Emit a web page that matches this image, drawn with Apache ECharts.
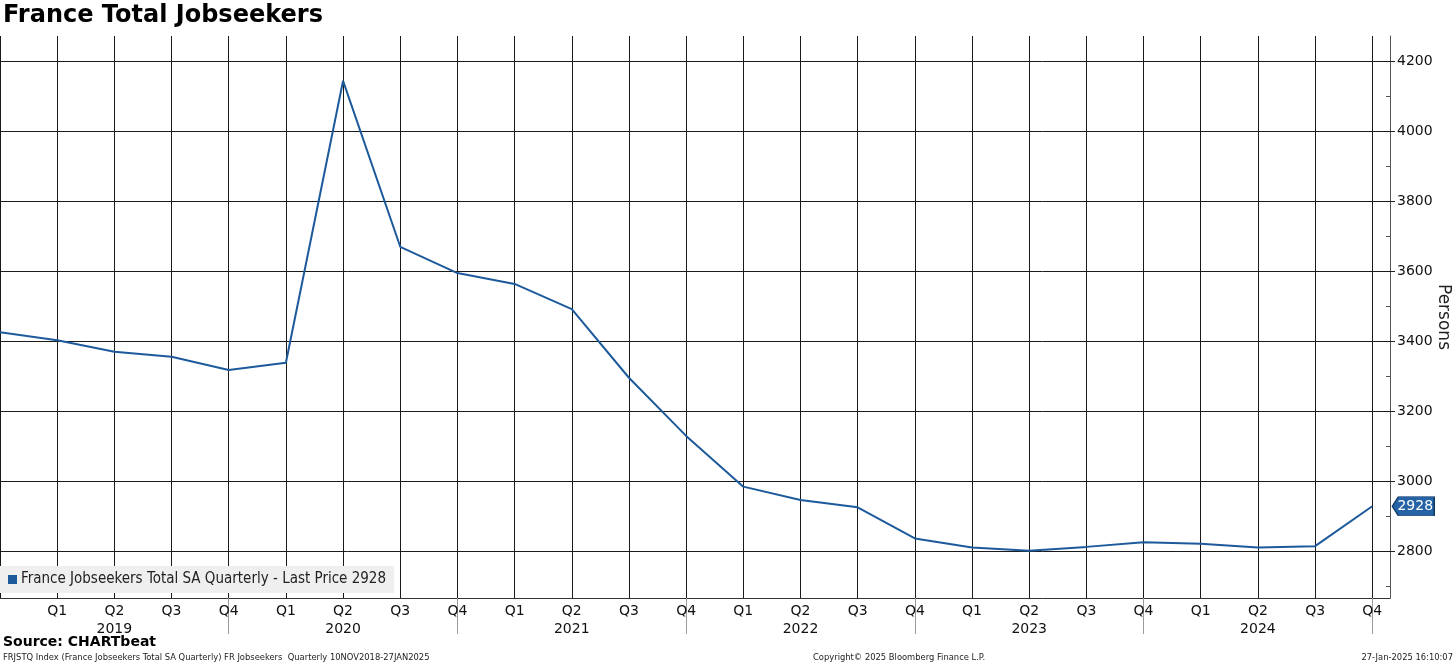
<!DOCTYPE html>
<html>
<head>
<meta charset="utf-8">
<script src="https://cdn.jsdelivr.net/npm/echarts@6/dist/echarts.min.js"></script>
<style>
html,body{margin:0;padding:0;background:#fff;}
#chart{width:1456px;height:665px;}
</style>
</head>
<body>
<div id="chart"></div>
<script>
// ---- data ----
const periods = ['2018 Q4',
  '2019 Q1','2019 Q2','2019 Q3','2019 Q4',
  '2020 Q1','2020 Q2','2020 Q3','2020 Q4',
  '2021 Q1','2021 Q2','2021 Q3','2021 Q4',
  '2022 Q1','2022 Q2','2022 Q3','2022 Q4',
  '2023 Q1','2023 Q2','2023 Q3','2023 Q4',
  '2024 Q1','2024 Q2','2024 Q3','2024 Q4'];
const jobseekers = [3425,
  3402,3369,3355,3317,
  3338,4143,3669,3594,
  3563,3491,3295,3129,
  2984,2946,2925,2836,
  2810,2801,2812,2825,
  2821,2810,2814,2928];
const yTickValues = [2800,3000,3200,3400,3600,3800,4000,4200];
const yMinorTickValues = [2700,2900,3100,3300,3500,3700,3900,4100];
const xLabelIndices = [1,2,3,4,5,6,7,8,9,10,11,12,13,14,15,16,17,18,19,20,21,22,23,24];
const yearSeparatorIndices = [4,8,12,16,20,24];
const seriesName = 'France Jobseekers Total SA Quarterly - Last Price 2928';
const lastPrice = jobseekers[jobseekers.length - 1];

const FONT = '"DejaVu Sans", sans-serif';
const FONT_C = '"DejaVu Sans Condensed", "DejaVu Sans", sans-serif';
const X_MAX = 24.31;
const Y_MIN = 2666, Y_MAX = 4271;

const lineData = jobseekers.map((v, i) => [i, v]);
const gridBox = {left: 0, right: 66, top: 36, bottom: 67, containLabel: false, outerBoundsMode: 'none'};

const chart = echarts.init(document.getElementById('chart'), null, {renderer: 'canvas'});
chart.setOption({
  animation: false,
  backgroundColor: '#ffffff',
  textStyle: {fontFamily: FONT},
  title: [
    {text: 'France Total Jobseekers', left: 3, top: 4, padding: 0,
     textStyle: {fontSize: 24, fontWeight: 'bold', color: '#000', fontFamily: FONT}},
    {text: 'Source: CHARTbeat', left: 3, top: 635, padding: 0,
     textStyle: {fontSize: 14, fontWeight: 'bold', color: '#000', fontFamily: FONT}},
    {text: 'FRJSTQ Index (France Jobseekers Total SA Quarterly) FR Jobseekers  Quarterly 10NOV2018-27JAN2025', left: 3, top: 653, padding: 0,
     textStyle: {fontSize: 9.3, fontWeight: 'normal', color: '#222', fontFamily: FONT_C}},
    {text: 'Copyright\u00A9 2025 Bloomberg Finance L.P.', left: 813, top: 653, padding: 0,
     textStyle: {fontSize: 9.3, fontWeight: 'normal', color: '#222', fontFamily: FONT_C}},
    {text: '27-Jan-2025 16:10:07', right: 3, top: 653, padding: 0,
     textStyle: {fontSize: 9.3, fontWeight: 'normal', color: '#222', fontFamily: FONT_C}}
  ],
  legend: {
    left: 0, top: 566,
    data: [seriesName],
    icon: 'rect', itemWidth: 9, itemHeight: 9, itemGap: 4,
    backgroundColor: '#efefef',
    padding: [6, 8, 6, 8],
    textStyle: {fontSize: 15, color: '#222', fontFamily: FONT_C, padding: [0, 0, 0, -1]}
  },
  grid: [gridBox, Object.assign({}, gridBox)],
  xAxis: [
    {
      type: 'value', gridIndex: 0, min: 0, max: X_MAX, interval: 1,
      axisLine: {show: true, onZero: false, lineStyle: {color: '#333', width: 1}},
      axisTick: {show: false},
      splitLine: {show: true, lineStyle: {color: '#1a1a1a', width: 1}},
      axisLabel: {
        customValues: xLabelIndices,
        margin: 4, fontSize: 14, color: '#111', lineHeight: 18, fontFamily: FONT,
        formatter: function (v) {
          const p = periods[Math.round(v)];
          if (!p) return '';
          const parts = p.split(' ');
          return parts[1] === 'Q2' ? parts[1] + '\n' + parts[0] : parts[1];
        }
      }
    },
    {
      type: 'value', gridIndex: 1, min: 0, max: X_MAX, position: 'bottom',
      axisLine: {show: false, onZero: false},
      axisTick: {show: true, customValues: yearSeparatorIndices, length: 36, lineStyle: {color: '#9a9a9a', width: 1}},
      axisLabel: {show: false},
      splitLine: {show: false}
    }
  ],
  yAxis: [
    {
      type: 'value', gridIndex: 0, position: 'right', min: Y_MIN, max: Y_MAX,
      name: 'Persons', nameLocation: 'middle', nameRotate: -90, nameGap: 45, nameMoveOverlap: false,
      nameTextStyle: {fontSize: 17, color: '#222', fontFamily: FONT},
      axisLine: {show: true, onZero: false, lineStyle: {color: '#555', width: 1}},
      axisTick: {show: true, customValues: yTickValues, length: 5, inside: false, lineStyle: {color: '#222'}},
      axisLabel: {customValues: yTickValues, margin: 7, fontSize: 14, color: '#111', fontFamily: FONT,
        formatter: function (v) { return String(v); }},
      splitLine: {show: true, lineStyle: {color: '#1a1a1a', width: 1}}
    },
    {
      type: 'value', gridIndex: 1, position: 'right', min: Y_MIN, max: Y_MAX,
      axisLine: {show: false, onZero: false},
      axisTick: {show: true, customValues: yMinorTickValues, length: 4, inside: true, lineStyle: {color: '#555'}},
      axisLabel: {show: false},
      splitLine: {show: false}
    }
  ],
  series: [{
    name: seriesName,
    type: 'line',
    xAxisIndex: 0, yAxisIndex: 0,
    data: lineData,
    showSymbol: false,
    symbol: 'none',
    color: '#1d5a9b',
    lineStyle: {color: '#1d5a9b', width: 2},
    markPoint: {
      silent: true,
      animation: false,
      data: [{coord: [jobseekers.length - 1, lastPrice], value: lastPrice}],
      symbol: 'path://M0,9 L6,0 L42,0 L42,18 L6,18 Z',
      symbolSize: [42, 19],
      symbolOffset: [41, 0],
      symbolKeepAspect: false,
      itemStyle: {color: '#2563a6', borderColor: '#0f3763', borderWidth: 1},
      label: {show: true, position: 'inside', offset: [2, 0], color: '#fff', fontSize: 14, fontFamily: FONT,
        formatter: function (p) { return String(p.value); }}
    }
  }]
});
</script>
</body>
</html>
